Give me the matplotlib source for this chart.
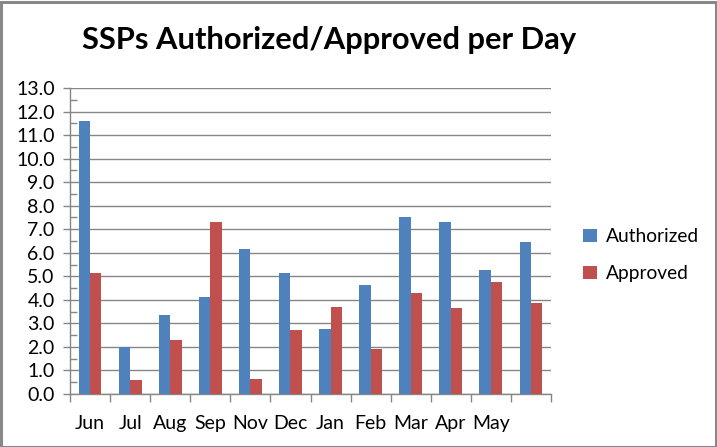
import numpy as np
import matplotlib
matplotlib.use("Agg")
import matplotlib.pyplot as plt
from matplotlib.patches import Rectangle
from matplotlib.ticker import MultipleLocator, FormatStrFormatter

plt.rcParams['font.family'] = ['Lato', 'DejaVu Sans']

# data (12 groups, last one has no label)
months = ['Jun', 'Jul', 'Aug', 'Sep', 'Nov', 'Dec', 'Jan', 'Feb', 'Mar', 'Apr', 'May', '']
authorized = [11.6, 1.98, 3.37, 4.13, 6.17, 5.15, 2.77, 4.64, 7.53, 7.32, 5.28, 6.47]
approved = [5.15, 0.61, 2.31, 7.32, 0.65, 2.73, 3.71, 1.92, 4.30, 3.66, 4.77, 3.88]

blue = '#4F81BD'
red = '#C0504D'
grey = '#868686'

W, H = 717, 447
fig = plt.figure(figsize=(W/100, H/100), dpi=100)
ax = fig.add_axes([70/W, 53/H, 481/W, 306/H])

x = np.arange(len(months))
w = 1/3.5
ax.bar(x - w/2, authorized, w, color=blue, label='Authorized', zorder=3)
ax.bar(x + w/2, approved, w, color=red, label='Approved', zorder=3)

ax.set_xlim(-0.5, len(months) - 0.5)
ax.set_ylim(0, 13)

ax.yaxis.set_major_locator(MultipleLocator(1))
ax.yaxis.set_minor_locator(MultipleLocator(0.5))
ax.yaxis.set_major_formatter(FormatStrFormatter('%.1f'))
ax.tick_params(axis='y', which='major', direction='out', length=5, width=1,
               color=grey, labelsize=14, pad=6)
ax.tick_params(axis='y', which='minor', direction='in', length=5, width=1, color=grey)

ax.set_xticks(x)
ax.set_xticklabels(months)
ax.set_xticks(np.arange(-0.5, len(months)), minor=True)
ax.tick_params(axis='x', which='major', length=0, labelsize=14, pad=15)
ax.tick_params(axis='x', which='minor', direction='out', length=6, width=1, color=grey)

ax.grid(axis='y', which='major', color=grey, linewidth=1, zorder=0)
for s in ['top', 'right']:
    ax.spines[s].set_visible(False)
for s in ['left', 'bottom']:
    ax.spines[s].set_color(grey)
    ax.spines[s].set_linewidth(1)
ax.set_axisbelow(True)

fig.text(0.5 * (82 + 577) / W, 1 - 40/H, 'SSPs Authorized/Approved per Day',
         ha='center', va='center', fontsize=22.2, fontweight='bold')

leg = fig.legend(loc='center left', bbox_to_anchor=(566/W, 1 - 255/H), frameon=False,
                 fontsize=13.8, handlelength=0.7, handleheight=0.7, handletextpad=0.5,
                 labelspacing=1.05)

# outer frame
fig.patches.append(Rectangle((0.5/W, 0.5/H), 1 - 2/W, 1 - 2/H, transform=fig.transFigure,
                             fill=False, edgecolor='#888888', linewidth=2.2))

fig.savefig('out.png', dpi=100)
